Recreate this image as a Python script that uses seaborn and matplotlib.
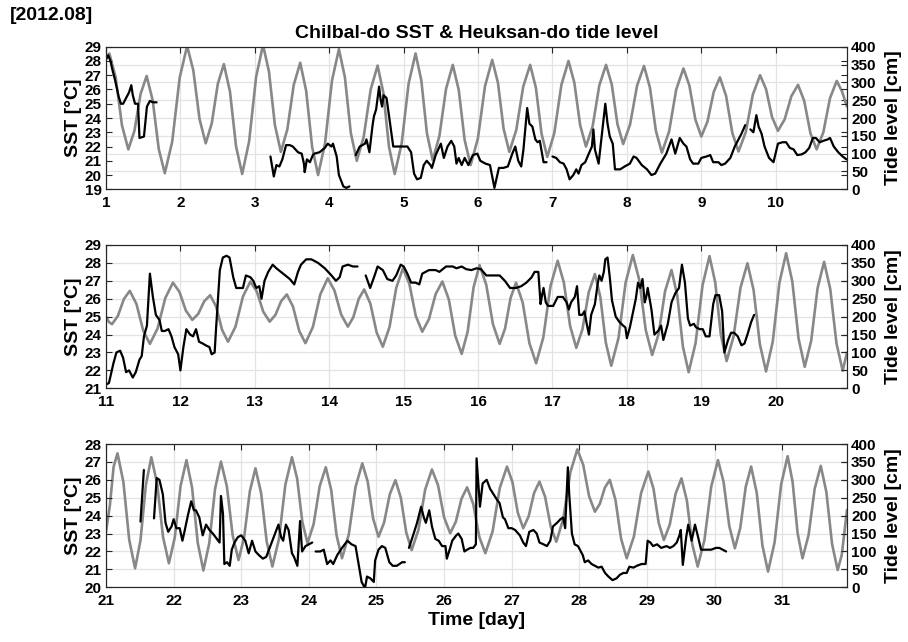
import numpy as np
import pandas as pd
import matplotlib
matplotlib.use("Agg")
import matplotlib.pyplot as plt
import seaborn as sns

sns.set_style("white")
plt.rcParams['font.family'] = ['Liberation Sans', 'DejaVu Sans']
plt.rcParams['font.weight'] = 'bold'
plt.rcParams['axes.labelweight'] = 'bold'
plt.rcParams['axes.titleweight'] = 'bold'
plt.rcParams['text.color'] = 'black'
plt.rcParams['axes.labelcolor'] = 'black'
plt.rcParams['xtick.color'] = 'black'
plt.rcParams['ytick.color'] = 'black'

NA = np.nan

# ---------------- Panel 1 (days 1-10) ----------------
sst1_t = [1.00, 1.03, 1.06, 1.09, 1.12, 1.17, 1.20, 1.23, 1.28, 1.31, 1.34, 1.36, 1.39, 1.43, 1.45, 1.51, 1.55, 1.59, 1.63, 1.68,
          NA,
          3.21, 3.255, 3.29, 3.33, 3.37, 3.42, 3.47, 3.51, 3.58, 3.63, 3.66, 3.67, 3.70, 3.74, 3.78, 3.80, 3.87, 3.94, 3.98, 4.03,
          4.05, 4.10, 4.13, 4.19, 4.23, 4.27,
          NA,
          4.356, 4.41, 4.48, 4.50, 4.54, 4.58, 4.60, 4.63, 4.67, 4.69, 4.71, 4.73, 4.77, 4.81, 4.86, 4.95, 5.05, 5.10, 5.14, 5.18,
          5.23, 5.27, 5.31, 5.36, 5.38, 5.43, 5.50, 5.54, 5.59, 5.64, 5.68, 5.71, 5.74, 5.78, 5.82, 5.87, 5.93, 5.99, 6.03, 6.10,
          6.16, 6.22, 6.28, 6.34, 6.40, 6.46, 6.50, 6.54, 6.58, 6.61, 6.66, 6.69, 6.73, 6.77, 6.80, 6.83, 6.86, 6.88, 6.92,
          NA,
          7.00, 7.05, 7.10, 7.15, 7.19, 7.23, 7.28, 7.32, 7.35, 7.39, 7.44, 7.48, 7.53, 7.55, 7.57, 7.62, 7.68, 7.71, 7.74, 7.77,
          7.81, 7.84, 7.91, 7.97, 8.04, 8.09, 8.13, 8.20, 8.27, 8.33, 8.38, 8.45, 8.53, 8.60, 8.65, 8.71, 8.76, 8.80, 8.85, 8.89,
          8.96, 9.00, 9.07, 9.12, 9.16, 9.23, 9.27, 9.32, 9.39, 9.45, 9.50, 9.54, 9.59,
          NA,
          9.66, 9.70, 9.74, 9.77, 9.81, 9.85, 9.91, 9.97, 10.03, 10.09, 10.14, 10.19, 10.24, 10.29, 10.35, 10.40, 10.45, 10.50,
          10.54, 10.59, 10.64, 10.70, 10.73, 10.78, 10.84, 10.90, 10.95]
sst1_v = [28.1, 28.4, 28.0, 27.3, 26.7, 25.5, 25.0, 25.0, 25.5, 25.8, 26.3, 25.6, 25.0, 25.0, 22.6, 22.7, 24.8, 25.2, 25.1, 25.1,
          NA,
          21.3, 19.9, 20.7, 20.6, 21.1, 22.1, 22.1, 22.0, 21.6, 21.5, 20.8, 20.2, 21.1, 20.9, 21.4, 21.5, 21.6, 21.9, 22.2, 22.0,
          22.2, 21.3, 20.0, 19.2, 19.1, 19.2,
          NA,
          21.4, 22.0, 22.2, 22.5, 21.6, 23.4, 24.1, 24.6, 26.2, 25.3, 24.8, 25.6, 25.4, 23.9, 22.0, 22.0, 22.0, 21.6, 20.1, 19.7,
          19.8, 20.7, 21.0, 20.7, 20.5, 21.4, 22.2, 21.2, 22.0, 22.4, 22.0, 20.8, 21.2, 20.7, 21.2, 20.7, 21.4, 21.5, 21.0, 20.8,
          20.7, 19.1, 20.5, 20.5, 20.6, 21.5, 22.0, 21.0, 20.6, 21.8, 24.7, 23.6, 23.4, 22.5, 22.3, 22.4, 21.5, 20.9, 20.9,
          NA,
          21.3, 21.2, 20.9, 20.8, 20.4, 19.7, 20.0, 20.4, 20.1, 20.7, 20.9, 21.4, 22.0, 23.2, 21.8, 20.8, 23.6, 25.0, 23.6, 22.7,
          22.2, 20.4, 20.4, 20.6, 20.8, 21.3, 21.2, 20.7, 20.4, 20.0, 20.1, 20.8, 21.5, 22.5, 21.5, 22.6, 22.2, 22.0, 21.1, 20.8,
          20.8, 21.2, 21.3, 21.4, 20.9, 20.9, 20.7, 20.8, 21.2, 22.0, 22.5, 22.9, 23.5,
          NA,
          23.2, 23.0, 24.2, 23.4, 22.9, 22.0, 21.2, 20.9, 22.2, 22.3, 22.3, 21.9, 21.8, 21.4, 21.45, 21.6, 21.9, 22.6,
          22.6, 22.3, 22.4, 22.5, 22.6, 22.0, 21.6, 21.3, 21.1]

tide1_t = [1.00, 1.045, 1.13, 1.215, 1.30, 1.382, 1.464, 1.546, 1.627, 1.709, 1.79, 1.89, 1.99, 2.09, 2.173, 2.257, 2.34,
           2.421, 2.503, 2.584, 2.666, 2.748, 2.83, 2.923, 3.017, 3.11, 3.19, 3.27, 3.35, 3.437, 3.523, 3.61, 3.69, 3.77,
           3.85, 3.943, 4.037, 4.13, 4.21, 4.29, 4.37, 4.463, 4.557, 4.65, 4.727, 4.803, 4.88, 4.973, 5.067, 5.16, 5.237,
           5.313, 5.39, 5.48, 5.57, 5.66, 5.74, 5.82, 5.90, 5.997, 6.093, 6.19, 6.267, 6.343, 6.42, 6.513, 6.607, 6.70,
           6.777, 6.853, 6.93, 7.025, 7.12, 7.215, 7.293, 7.372, 7.45, 7.54, 7.63, 7.72, 7.797, 7.873, 7.95, 8.043, 8.137,
           8.23, 8.31, 8.39, 8.47, 8.567, 8.663, 8.76, 8.84, 8.92, 9.00, 9.083, 9.167, 9.25, 9.333, 9.417, 9.50, 9.597,
           9.693, 9.79, 9.87, 9.95, 10.03, 10.12, 10.21, 10.30, 10.383, 10.467, 10.55, 10.64, 10.73, 10.82, 10.89, 10.958]
tide1_v = [368, 381, 314, 179, 112, 164, 267, 318, 250, 113, 45, 134, 313, 402, 334, 197, 129,
           185, 296, 351, 274, 120, 43, 134, 315, 405, 330, 180, 105, 168, 293, 355, 276, 119,
           40, 128, 305, 393, 315, 158, 80, 147, 280, 347, 271, 119, 43, 128, 297, 381, 306,
           157, 82, 149, 282, 349, 279, 138, 68, 142, 289, 363, 299, 170, 105, 166, 288, 349,
           285, 156, 91, 158, 293, 360, 300, 180, 120, 177, 292, 349, 294, 183, 127, 182, 291,
           346, 285, 164, 103, 162, 280, 339, 291, 196, 148, 190, 273, 314, 262, 158, 106, 160,
           266, 320, 281, 203, 164, 196, 261, 293, 248, 157, 112, 160, 256, 304, 275, 232]

# ---------------- Panel 2 (days 11-20) ----------------
sst2_t = [11.00, 11.04, 11.10, 11.14, 11.19, 11.23, 11.27, 11.31, 11.36, 11.40, 11.45, 11.48, 11.51, 11.55, 11.59, 11.63,
          11.67, 11.72, 11.75, 11.79, 11.84, 11.88, 11.92, 11.97, 12.00, 12.04, 12.08, 12.13, 12.17, 12.21, 12.25, 12.30,
          12.34, 12.39, 12.42, 12.46, 12.48, 12.53, 12.57, 12.62, 12.66, 12.71, 12.75, 12.80, 12.84, 12.88, 12.94, 12.98,
          13.02, 13.06, 13.09, 13.13, 13.18, 13.24, 13.29, 13.38, 13.47, 13.53, 13.58, 13.62, 13.69, 13.76, 13.85, 13.94,
          14.03, 14.09, 14.14, 14.18, 14.25, 14.32, 14.38,
          NA,
          14.49, 14.55, 14.61, 14.65, 14.72, 14.78, 14.85, 14.90, 14.96, 15.00, 15.05, 15.10, 15.16, 15.21, 15.25, 15.34,
          15.43, 15.48, 15.57, 15.66, 15.71, 15.78, 15.84, 15.91, 15.98, 16.04, 16.11, 16.20, 16.29, 16.36, 16.43, 16.51,
          16.58, 16.65, 16.72, 16.76, 16.81, 16.84, 16.86, 16.88, 16.91, 16.94, 17.01, 17.07, 17.14, 17.19, 17.22, 17.25,
          17.30, 17.33, 17.36, 17.40, 17.43, 17.46, 17.49, 17.52, 17.57, 17.61, 17.63, 17.66, 17.69, 17.71, 17.74, 17.77,
          17.80, 17.85, 17.90, 17.95, 17.98, 18.00, 18.04, 18.08, 18.12, 18.15, 18.18, 18.21, 18.24, 18.26, 18.28, 18.33,
          18.37, 18.42, 18.46, 18.49, 18.55, 18.60, 18.65, 18.70, 18.74, 18.78, 18.82, 18.85, 18.90, 18.93, 18.98, 19.02,
          19.06, 19.11, 19.16, 19.19, 19.24, 19.28, 19.31, 19.36, 19.40, 19.44, 19.49, 19.54, 19.58, 19.62, 19.67, 19.71]
sst2_v = [21.2, 21.3, 22.4, 23.0, 23.1, 22.7, 21.9, 22.0, 21.6, 21.9, 22.6, 22.8, 23.9, 24.5, 27.4, 26.1,
          25.1, 24.8, 24.2, 24.2, 24.3, 23.9, 23.3, 22.9, 22.0, 23.3, 24.3, 24.0, 23.9, 24.3, 23.6, 23.5,
          23.4, 23.3, 22.9, 23.0, 24.4, 27.6, 28.3, 28.4, 28.3, 27.2, 26.6, 26.6, 26.6, 27.3, 27.2, 27.0,
          26.6, 26.7, 26.0, 27.0, 27.5, 27.9, 27.7, 27.4, 27.1, 26.8, 27.5, 27.9, 28.2, 28.2, 28.0, 27.7,
          27.3, 27.0, 27.2, 27.8, 27.9, 27.8, 27.8,
          NA,
          27.3, 26.6, 27.3, 27.8, 27.6, 27.1, 27.0, 27.3, 27.9, 27.8, 27.4, 26.9, 26.9, 26.8, 27.4, 27.6,
          27.6, 27.5, 27.8, 27.8, 27.7, 27.8, 27.65, 27.6, 27.7, 27.65, 27.3, 27.3, 27.3, 27.0, 26.6, 26.6,
          26.7, 26.9, 27.2, 27.5, 27.5, 25.7, 26.2, 26.6, 25.8, 25.6, 25.6, 26.1, 26.1, 25.8, 25.4, 25.8,
          26.1, 26.7, 25.1, 25.1, 25.3, 24.6, 24.0, 25.1, 25.7, 26.9, 27.3, 27.0, 27.5, 28.2, 28.3, 27.2,
          25.9, 25.0, 24.7, 24.5, 24.4, 23.8, 24.4, 25.2, 26.0, 26.9, 26.6, 27.1, 25.8, 26.1, 26.6, 25.4,
          24.0, 24.2, 24.5, 23.7, 24.6, 25.8, 26.3, 26.6, 27.9, 26.9, 24.9, 24.5, 24.6, 24.4, 24.3, 24.3,
          23.9, 23.9, 25.7, 26.2, 26.2, 25.3, 23.0, 23.7, 24.1, 24.1, 23.9, 23.4, 23.5, 24.0, 24.7, 25.1]

tide2_t = [11.00, 11.04, 11.08, 11.16, 11.24, 11.32, 11.41, 11.50, 11.59, 11.693, 11.797, 11.90, 11.987, 12.073, 12.16,
           12.24, 12.32, 12.40, 12.48, 12.56, 12.64, 12.74, 12.84, 12.94, 13.027, 13.113, 13.20, 13.277, 13.353, 13.43,
           13.513, 13.597, 13.68, 13.78, 13.88, 13.98, 14.07, 14.16, 14.25, 14.323, 14.397, 14.47, 14.553, 14.637, 14.72,
           14.81, 14.90, 14.99, 15.077, 15.163, 15.25, 15.34, 15.43, 15.52, 15.607, 15.693, 15.78, 15.86, 15.94, 16.02,
           16.11, 16.20, 16.29, 16.363, 16.437, 16.51, 16.60, 16.69, 16.78, 16.877, 16.973, 17.07, 17.153, 17.237, 17.32,
           17.403, 17.487, 17.57, 17.643, 17.717, 17.79, 17.887, 17.983, 18.08, 18.167, 18.253, 18.34, 18.427, 18.513,
           18.60, 18.677, 18.753, 18.83, 18.923, 19.017, 19.11, 19.187, 19.263, 19.34, 19.433, 19.527, 19.62, 19.703,
           19.787, 19.87, 19.96, 20.05, 20.14, 20.223, 20.307, 20.39, 20.477, 20.563, 20.65, 20.733, 20.817, 20.90, 20.958]
tide2_v = [200, 185, 179, 202, 249, 272, 235, 161, 124, 167, 252, 295, 269, 217, 191,
           208, 243, 260, 228, 163, 130, 172, 256, 298, 270, 214, 186, 205, 243, 262,
           228, 160, 126, 171, 262, 307, 273, 206, 172, 198, 250, 276, 236, 156, 116,
           171, 280, 335, 291, 202, 158, 193, 263, 298, 248, 147, 96, 158, 282, 344,
           289, 179, 124, 167, 252, 295, 239, 126, 70, 142, 285, 356, 295, 174, 113,
           165, 268, 319, 255, 127, 63, 140, 295, 372, 302, 163, 93, 152, 271,
           330, 259, 116, 45, 126, 288, 369, 296, 149, 76, 144, 281, 349, 274,
           123, 47, 130, 295, 377, 298, 139, 60, 133, 280, 353, 277, 125, 49, 100]

# ---------------- Panel 3 (days 21-31) ----------------
sst3_t = [21.51, 21.56,
          NA,
          21.71, 21.75, 21.79, 21.84, 21.88, 21.92, 21.97, 22.00, 22.04, 22.09, 22.13, 22.16, 22.21, 22.26, 22.30, 22.33,
          22.38, 22.43, 22.48, 22.53, 22.58, 22.64, 22.68, 22.70, 22.73, 22.75, 22.79, 22.83, 22.86, 22.90, 22.95, 23.00,
          23.06, 23.11, 23.16, 23.21, 23.26, 23.32, 23.37, 23.41, 23.46, 23.51, 23.55, 23.59, 23.62, 23.66, 23.70, 23.75,
          23.78, 23.83, 23.87, 23.90, 23.95, 24.05,
          NA,
          24.10, 24.17, 24.22, 24.27, 24.32, 24.36, 24.42, 24.49, 24.57, 24.63, 24.69, 24.74, 24.78, 24.83, 24.86, 24.91,
          24.96, 24.98, 25.03, 25.08, 25.13, 25.19, 25.24, 25.30, 25.38, 25.42,
          NA,
          25.48, 25.55, 25.60, 25.66, 25.70, 25.73, 25.78, 25.82, 25.87, 25.92, 25.97, 26.02, 26.04, 26.09, 26.12, 26.18,
          26.21, 26.26, 26.30, 26.34, 26.39, 26.43, 26.47, 26.48, 26.53, 26.57, 26.63, 26.68, 26.73, 26.78, 26.82, 26.87,
          26.90, 26.95, 27.00, 27.05, 27.12, 27.17, 27.21, 27.26, 27.32, 27.37, 27.41, 27.47, 27.52, 27.57, 27.61, 27.67,
          27.72, 27.76, 27.79, 27.83, 27.85, 27.89, 27.93, 27.98, 28.05, 28.08, 28.13, 28.18, 28.23, 28.28, 28.33, 28.38,
          28.43, 28.49, 28.55, 28.60, 28.65, 28.70, 28.74, 28.80, 28.85, 28.92, 28.98, 29.01, 29.05, 29.09, 29.15, 29.21,
          29.29, 29.34, 29.39, 29.44, 29.48, 29.50, 29.53, 29.58, 29.61, 29.66, 29.71, 29.75, 29.80, 29.88, 29.95, 30.02,
          30.07, 30.12, 30.17]
sst3_v = [23.67, 26.55,
          NA,
          23.85, 26.1, 26.0, 25.2, 23.6, 23.1, 23.4, 23.8, 23.3, 23.3, 22.6, 23.1, 24.0, 24.8, 24.3, 24.3,
          23.9, 22.9, 23.5, 23.2, 23.0, 22.7, 22.5, 25.1, 24.1, 21.3, 21.4, 21.2, 22.1, 22.5, 22.8, 22.9,
          22.6, 21.9, 22.6, 22.0, 21.8, 21.6, 21.7, 22.1, 22.6, 23.1, 23.5, 22.8, 22.6, 23.5, 23.2, 21.9,
          21.7, 21.2, 23.7, 22.0, 22.3, 22.5,
          NA,
          22.0, 22.0, 22.1, 21.3, 21.5, 21.3, 21.8, 22.2, 22.6, 22.4, 22.3, 21.2, 20.3, 19.95, 20.6, 20.5,
          20.3, 21.5, 22.1, 22.3, 22.2, 21.4, 21.2, 21.2, 21.4, 21.4,
          NA,
          22.2, 23.0, 23.6, 24.5, 23.9, 23.6, 24.3, 23.4, 22.7, 22.6, 22.3, 22.3, 21.6, 22.2, 22.6, 22.9,
          23.0, 22.7, 22.0, 22.1, 22.2, 22.2, 22.4, 27.2, 24.5, 25.8, 26.0, 25.5, 25.2, 24.9, 24.7, 23.9,
          23.8, 23.3, 23.3, 23.2, 22.9, 22.5, 22.3, 23.1, 23.2, 23.0, 22.5, 22.4, 22.3, 22.6, 23.4, 23.6,
          23.8, 23.9, 23.3, 26.7, 25.2, 23.0, 22.4, 22.3, 21.8, 21.4, 21.5, 21.3, 21.2, 21.1, 21.15, 20.8,
          20.6, 20.4, 20.5, 20.7, 20.8, 20.8, 21.15, 21.1, 21.2, 21.3, 21.3, 22.6, 22.5, 22.3, 22.4, 22.2,
          22.3, 22.2, 22.3, 22.5, 22.9, 23.2, 21.25, 22.8, 23.5, 22.6, 23.5, 22.9, 22.1, 22.1, 22.1, 22.2,
          22.2, 22.1, 22.0]

tide3_t = [21.00, 21.057, 21.113, 21.17, 21.257, 21.343, 21.43, 21.51, 21.59, 21.67, 21.757, 21.843, 21.93, 22.017,
           22.103, 22.19, 22.273, 22.357, 22.44, 22.527, 22.613, 22.70, 22.787, 22.873, 22.96, 23.043, 23.127, 23.21,
           23.293, 23.377, 23.46, 23.557, 23.653, 23.75, 23.827, 23.903, 23.98, 24.07, 24.16, 24.25, 24.33, 24.41, 24.49,
           24.59, 24.69, 24.79, 24.87, 24.95, 25.03, 25.113, 25.197, 25.28, 25.36, 25.44, 25.52, 25.62, 25.72, 25.82,
           25.91, 26.00, 26.09, 26.173, 26.257, 26.34, 26.43, 26.52, 26.61, 26.717, 26.823, 26.93, 27.01, 27.09, 27.17,
           27.25, 27.33, 27.41, 27.493, 27.577, 27.66, 27.763, 27.867, 27.97, 28.057, 28.143, 28.23, 28.303, 28.377,
           28.45, 28.533, 28.617, 28.70, 28.807, 28.913, 29.02, 29.097, 29.173, 29.25, 29.337, 29.423, 29.51, 29.59,
           29.67, 29.75, 29.85, 29.95, 30.05, 30.133, 30.217, 30.30, 30.38, 30.46, 30.54, 30.623, 30.707, 30.79, 30.887,
           30.983, 31.08, 31.153, 31.227, 31.30, 31.39, 31.48, 31.57, 31.653, 31.737, 31.82, 31.88, 31.958]
tide3_v = [155, 228, 337, 374, 294, 133, 53, 131, 286, 363, 289, 141, 67, 139,
           283, 355, 278, 124, 47, 123, 275, 351, 282, 145, 76, 140, 268, 332,
           264, 127, 58, 134, 287, 363, 303, 183, 123, 176, 282, 335, 272, 145, 81,
           147, 280, 346, 295, 192, 141, 181, 260, 299, 250, 153, 104, 160, 273, 329,
           285, 195, 151, 183, 247, 279, 233, 141, 95, 156, 277, 337, 294, 208, 165,
           198, 263, 295, 253, 169, 127, 192, 321, 385, 342, 255, 211, 233, 278,
           300, 245, 136, 81, 142, 263, 323, 275, 180, 132, 175, 261, 304, 242,
           120, 58, 132, 281, 355, 294, 171, 109, 166, 280, 337, 264, 117, 44, 125,
           286, 366, 295, 152, 81, 146, 275, 339, 266, 121, 48, 90, 216]

x_starts = [1, 11, 21]
x_ends = [10.958, 20.958, 31.958]
x_ticks = [list(range(1, 11)), list(range(11, 21)), list(range(21, 32))]
sst_lims = [(19, 29), (21, 29), (20, 28)]
tide_lim = (0, 400)
tide_ticks = list(range(0, 401, 50))

title_text = "Chilbal-do SST & Heuksan-do tide level"
tag_text = "[2012.08]"


def to_frame(t, v):
    rows, seg = [], 0
    for ti, vi in zip(t, v):
        if np.isnan(ti) or np.isnan(vi):
            seg += 1
            continue
        rows.append((ti, vi, seg))
    return pd.DataFrame(rows, columns=["t", "v", "seg"])


panels = [(sst1_t, sst1_v, tide1_t, tide1_v),
          (sst2_t, sst2_v, tide2_t, tide2_v),
          (sst3_t, sst3_v, tide3_t, tide3_v)]
for a, b, c, d in panels:
    assert len(a) == len(b), (len(a), len(b))
    assert len(c) == len(d), (len(c), len(d))

W, H = 908, 642
fig = plt.figure(figsize=(W / 100, H / 100), dpi=100, facecolor="white")
left, right = 106 / W, 847 / W
tops = [46.7, 245, 444]
bottoms = [189.3, 388.3, 587.3]

SPINE = "#262626"
GRID = "#e3e3e3"
GRAY = "#888888"

for i, (st, sv, tt, tv) in enumerate(panels):
    pos = [left, 1 - bottoms[i] / H, right - left, (bottoms[i] - tops[i]) / H]
    ax = fig.add_axes(pos)
    ax2 = ax.twinx()
    ax.set_zorder(ax2.get_zorder() + 1)
    ax.patch.set_visible(False)

    tide_df = pd.DataFrame({"t": tt, "v": tv})
    sns.lineplot(data=tide_df, x="t", y="v", ax=ax2, color=GRAY, linewidth=1.9,
                 estimator=None, sort=False)
    sst_df = to_frame(st, sv)
    sns.lineplot(data=sst_df, x="t", y="v", units="seg", ax=ax, color="black",
                 linewidth=1.6, estimator=None, sort=False)

    ax.set_xlim(x_starts[i], x_ends[i])
    ax.set_xticks(x_ticks[i])
    ax.set_ylim(*sst_lims[i])
    ax.set_yticks(list(range(sst_lims[i][0], sst_lims[i][1] + 1)))
    ax2.set_ylim(*tide_lim)
    ax2.set_yticks(tide_ticks)

    # grid: vertical from days, horizontal from tide axis (drawn beneath lines)
    ax.grid(False)
    ax2.xaxis.set_visible(True)
    ax2.tick_params(axis="x", bottom=False, top=False, labelbottom=False, labeltop=False)
    ax2.set_xlabel("")
    ax2.grid(True, axis="both", color=GRID, linewidth=0.9)

    ax.tick_params(axis="both", direction="in", length=4, width=0.8, color=SPINE,
                   labelsize=11, labelcolor="black", top=True, right=True)
    ax.tick_params(axis="x", pad=5)
    ax.tick_params(axis="y", pad=3)
    ax2.tick_params(axis="y", direction="in", length=4, width=0.8, color=SPINE,
                    labelsize=11, labelcolor="black", pad=3)

    for a_ in (ax, ax2):
        for sp in a_.spines.values():
            sp.set_color(SPINE)
            sp.set_linewidth(0.8)

    ax.set_ylabel("SST [°C]", fontsize=14, fontweight="bold", labelpad=2, color="black")
    ax2.set_ylabel("Tide level [cm]", fontsize=14, fontweight="bold", labelpad=6, color="black")
    if i == 2:
        ax.set_xlabel("Time [day]", fontsize=14, fontweight="bold", labelpad=3, color="black")
    else:
        ax.set_xlabel("")

fig.text((left + right) / 2, 1 - 33 / H, title_text, ha="center", va="center",
         fontsize=14, fontweight="bold", color="black")
fig.text(10 / W, 1 - 16 / H, tag_text, ha="left", va="center", fontsize=14,
         fontweight="bold", color="black")

fig.savefig("out.png", dpi=100, facecolor="white")
